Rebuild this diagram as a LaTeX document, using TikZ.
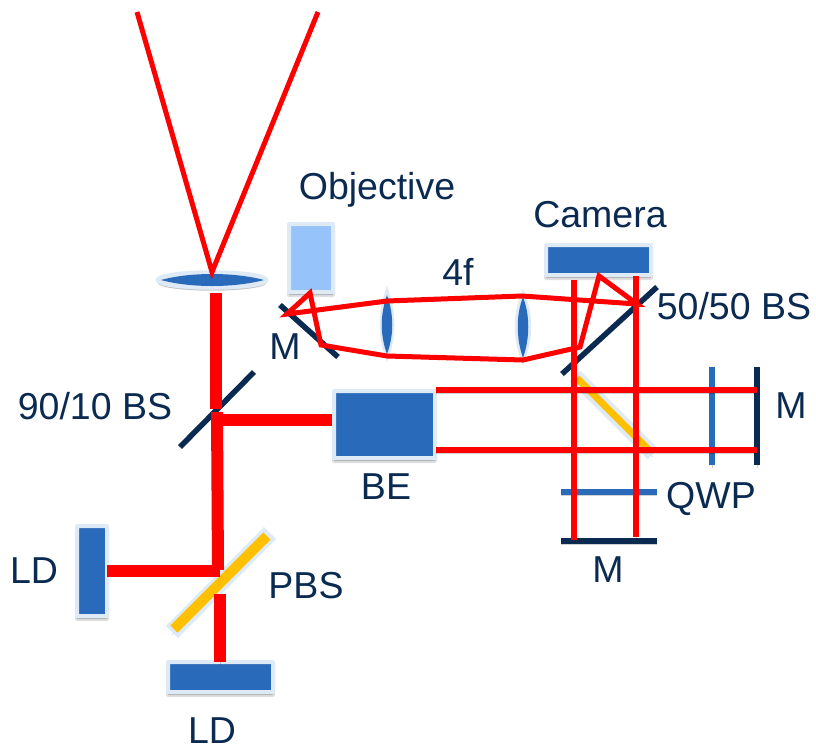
\documentclass[tikz,border=0pt]{standalone}
\usepackage{fontspec}
\setmainfont{Liberation Sans}
\definecolor{navy}{HTML}{0B2A52}
\definecolor{bluefill}{HTML}{2A6ABB}
\definecolor{lightfill}{HTML}{95C3FA}
\definecolor{rim}{HTML}{DEEAF5}
\definecolor{gold}{HTML}{FFC000}
\definecolor{beamred}{HTML}{FF0000}
\tikzset{
  soft/.style={preaction={draw=black,draw opacity=.18,transform canvas={yshift=-3pt}}},
  softfill/.style={preaction={fill=black,fill opacity=.22,draw=black,draw opacity=.12,transform canvas={yshift=-3pt}}},
  box/.style={draw=rim,line width=4pt,fill=bluefill,inner sep=0pt,rounded corners=.5pt,softfill},
  lensrim/.style={draw=rim,line width=4.5pt,fill=rim,softfill},
  lensfill/.style={fill=bluefill},
  label/.style={text=navy,font=\fontsize{37.5}{37.5}\selectfont,inner sep=0pt},
  thick beam/.style={draw=beamred,line width=12pt,soft},
  fine beam/.style={draw=beamred,line width=5.5pt,soft},
  ray/.style={draw=beamred,line width=5pt,line join=miter},
  mirror/.style={draw=navy,line width=5.5pt,soft},
  plate/.style={draw=bluefill,line width=5.5pt,soft},
  pbsrim/.style={draw=rim,line width=17pt,soft},
  pbscore/.style={draw=gold,line width=10pt},
}
\begin{document}
\begin{tikzpicture}[x=1pt,y=-1pt]
\useasboundingbox (0,0) rectangle (816,750);
% anchor points
\coordinate (vL) at (137,12); \coordinate (vT) at (212,272); \coordinate (vR) at (318,12);
\coordinate (bsA) at (254,372); \coordinate (bsB) at (180,447);
\coordinate (mA) at (280,305); \coordinate (mB) at (338,357);
\coordinate (bs2A) at (657,287); \coordinate (bs2B) at (562,374);
\coordinate (pA) at (270,533); \coordinate (pB) at (172,632);
\coordinate (qA) at (575,376); \coordinate (qB) at (653,454);
% polarising beam splitters
\draw[pbsrim] (pA) -- (pB);
\draw[pbscore] (267,536) -- (174,629);
\draw[pbsrim,line width=15pt] (qA) -- (qB);
\draw[pbscore,line width=7pt] (577,378) -- (650,451);
% boxes
\node[box,fill=lightfill,minimum width=44pt,minimum height=68pt] (obj) at (311,258) {};
\node[box,minimum width=105pt,minimum height=30pt] (cam) at (598.5,260) {};
\node[box,minimum width=101pt,minimum height=67pt] (be) at (384.5,424.5) {};
\node[box,minimum width=30pt,minimum height=90pt] (ldl) at (92,571) {};
\node[box,minimum width=105pt,minimum height=30pt] (ldb) at (220.5,677) {};
% lenses
\draw[lensrim] (212,280) ellipse [x radius=54pt,y radius=7.5pt];
\draw[lensrim] (387,293) .. controls (394,315) and (394,335) .. (387,355) .. controls (380,335) and (380,315) .. (387,293) -- cycle;
\draw[lensrim] (523,295) .. controls (531,315) and (531,338) .. (523,359) .. controls (515,338) and (515,315) .. (523,295) -- cycle;
\fill[lensfill] (161,280) .. controls (190,272) and (234,272) .. (264,280) .. controls (234,288) and (190,288) .. (161,280) -- cycle;
\fill[lensfill] (387,295) .. controls (394,315) and (394,335) .. (387,354) .. controls (380,335) and (380,315) .. (387,295) -- cycle;
\fill[lensfill] (523,297) .. controls (530,315) and (530,338) .. (523,358) .. controls (516,338) and (516,315) .. (523,297) -- cycle;
% mirrors and plates
\draw[mirror] (mA) -- (mB);
\draw[mirror] (bs2A) -- (bs2B);
\draw[mirror] (bsA) -- (bsB);
\draw[plate] (712,367) coordinate (qwpT) -- (712,465) coordinate (qwpB);
\draw[mirror] (757,367) coordinate (mrT) -- (757,465) coordinate (mrB);
\draw[plate] (561,492) coordinate (qwL) -- (657,492) coordinate (qwR);
\draw[mirror] (561,541) coordinate (mbL) -- (657,541) coordinate (mbR);
% thick beams
\draw[thick beam] (216,293) coordinate (t1) -- (216,409) coordinate (t2);
\draw[thick beam] (217,412) coordinate (t3) -- (218,570) coordinate (t4);
\coordinate (h1) at (220,420);
\draw[thick beam] (h1) -- (h1 -| be.west);
\draw[thick beam] (107,571) coordinate (l1) -- (220,571) coordinate (l2);
\draw[thick beam] (220,594) coordinate (b1) -- (220,662) coordinate (b2);
% fine beams
\draw[fine beam] (436,390) coordinate (u1) -- (757,390) coordinate (u2);
\draw[fine beam] (436,450) coordinate (d1) -- (757,450) coordinate (d2);
\draw[fine beam] (574,280) coordinate (c1) -- (574,540) coordinate (c2);
\draw[fine beam] (636,276) coordinate (c3) -- (636,537) coordinate (c4);
% rays
\draw[ray] (vL) -- (vT) -- (vR);
\coordinate (r1) at (310,293); \coordinate (r2) at (287,314); \coordinate (r3) at (387,301);
\coordinate (r4) at (522,296); \coordinate (r5) at (637,304); \coordinate (r6) at (599,276);
\coordinate (r7) at (580,347); \coordinate (r8) at (523,360); \coordinate (r9) at (387,356);
\coordinate (r10) at (321,345);
\draw[ray] (r1) -- (r2) -- (r3) -- (r4) -- (r5) -- (r6) -- (r7) -- (r8) -- (r9) -- (r10) -- cycle;
% labels
\node[label] (tObj) at (377,190) {Objective};
\node[label] (tCam) at (600,215) {Camera};
\node[label] (t4f) at (458,272) {4f};
\node[label] (tM1) at (285,347) {M};
\node[label] (tBS5) at (734,306) {50/50 BS};
\node[label] (tM2) at (791,406) {M};
\node[label] (tQWP) at (711,499) {QWP};
\node[label] (tBE) at (386,487) {BE};
\node[label] (tM3) at (608,570) {M};
\node[label] (tPBS) at (306,586) {PBS};
\node[label] (tBS9) at (95,406) {90/10 BS};
\node[label] (tLD1) at (34,571) {LD};
\node[label] (tLD2) at (212,731) {LD};
\end{tikzpicture}
\end{document}
